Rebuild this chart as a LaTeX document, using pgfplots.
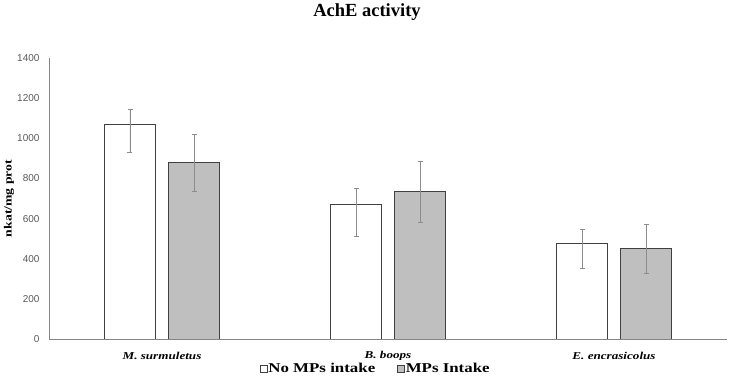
\documentclass[border=0pt]{standalone}
\usepackage{fontspec}
\setmainfont{Liberation Serif}
\setsansfont{Liberation Sans}
\newfontfamily\wideserif[FakeStretch=1.25]{Liberation Serif}
\usepackage{pgfplots}
\pgfplotsset{compat=1.18}

\definecolor{barline}{RGB}{64,64,64}
\definecolor{barfill}{RGB}{191,191,191}
\definecolor{errcol}{RGB}{140,140,140}
\definecolor{axiscol}{RGB}{134,134,134}
\definecolor{tickcol}{RGB}{89,89,89}

\begin{document}
\begin{tikzpicture}
% fix page size to the reference's 731 x 382
\path[use as bounding box] (-49pt,-43pt) rectangle (682pt,339pt);
\begin{axis}[
    scale only axis,
    width=678pt, height=281pt,
    ybar=13pt, bar width=51pt,
    xmin=-0.5, xmax=2.5,
    ymin=0, ymax=1400,
    ytick={0,200,...,1400},
    xtick=data,
    xticklabels={M. surmuletus, B. boops, E. encrasicolus},
    axis x line*=bottom, axis y line*=left,
    axis line style={axiscol, line width=0.8pt, -},
    major tick length=0pt,
    /pgf/number format/assume math mode=true,
    /pgf/number format/1000 sep={},
    yticklabel style={font=\sffamily\fontsize{10}{12}\selectfont, text=tickcol, xshift=-6pt},
    xticklabel style={font=\wideserif\bfseries\itshape\fontsize{10.5}{12}\selectfont, anchor=center, yshift=-17pt},
    ylabel={nkat/mg prot},
    every axis y label/.style={at={([xshift=-40pt]rel axis cs:0,0.5)}, rotate=90, anchor=center,
        font=\wideserif\bfseries\fontsize{11}{12}\selectfont},
    title={AchE activity},
    every axis title/.style={at={([yshift=46pt]rel axis cs:0.469,1)}, anchor=center,
        font=\bfseries\fontsize{18.5}{20}\selectfont},
    legend style={draw=none, at={([yshift=-30pt]rel axis cs:0.482,0)}, anchor=center,
        legend columns=2, font=\wideserif\bfseries\fontsize{13.5}{15}\selectfont,
        /tikz/every odd column/.append style={column sep=-1pt},
        /tikz/every even column/.append style={column sep=20pt}},
    legend image code/.code={\draw[#1, line width=0.5pt] (0pt,-3pt) rectangle (7pt,4pt);},
    error bars/y dir=both, error bars/y explicit,
    error bars/error bar style={errcol, line width=0.8pt},
    error bars/error mark options={errcol, rotate=90, mark size=2.5pt, line width=0.6pt},
]
\addplot[draw=barline, fill=white, line width=0.7pt] coordinates {
    (0,1069) += (0,73) -= (0,139)
    (1,669)  += (0,80) -= (0,156)
    (2,475)  += (0,72) -= (0,122)
};
\addlegendentry{No MPs intake}
\addplot[draw=barline, fill=barfill, line width=0.7pt] coordinates {
    (0,881) += (0,138) -= (0,143)
    (1,734) += (0,151) -= (0,153)
    (2,450) += (0,120) -= (0,122)
};
\addlegendentry{MPs Intake}
\end{axis}
\end{tikzpicture}
\end{document}
